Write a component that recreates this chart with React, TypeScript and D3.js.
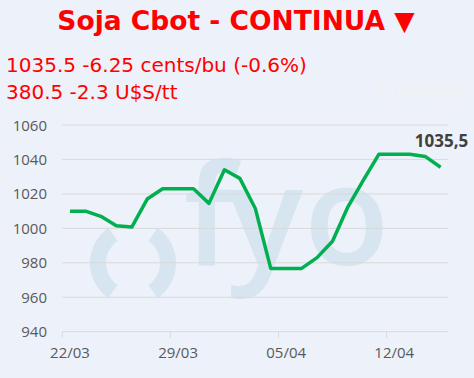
import React from "react";
import * as d3 from "d3";

const dates = ["22/03","23/03","24/03","25/03","26/03","27/03","28/03","29/03","30/03","31/03","01/04","02/04","03/04","04/04","05/04","06/04","07/04","08/04","09/04","10/04","11/04","12/04","13/04","14/04","15/04"];
const prices = [1010,1010,1007,1001.5,1000.75,1017,1023,1023,1023,1014.5,1034,1029,1011.5,976.75,976.75,976.75,983,992.5,1012.5,1028,1043,1043,1043,1041.75,1035.5];
const yTicks = [940,960,980,1000,1020,1040,1060];
const xLabels = ["22/03","29/03","05/04","12/04"];
const title = "Soja Cbot - CONTINUA ▼";
const line1 = "1035.5 -6.25 cents/bu (-0.6%)";
const line2 = "380.5 -2.3 U$S/tt";
const lastLabel = "1035,5";

const W = 474, H = 378;

export default function App() {
  const x = d3.scaleBand<string>().domain(dates).range([62.3, 448.3]).padding(0);
  const y = d3.scaleLinear().domain([940, 1060]).range([331.7, 125]);
  const cx = (d: string) => (x(d) as number) + x.bandwidth() / 2;
  const lineGen = d3.line<number>().x((_, i) => cx(dates[i])).y((v) => y(v)).curve(d3.curveLinear);
  const arc = d3.arc();
  const deg = Math.PI / 180;
  const leftParen = arc({ innerRadius: 27, outerRadius: 43, startAngle: 215 * deg, endAngle: 325 * deg } as any) as string;
  const rightParen = arc({ innerRadius: 27, outerRadius: 43, startAngle: 35 * deg, endAngle: 145 * deg } as any) as string;
  const last = dates.length - 1;
  return (
    <svg width={W} height={H} style={{ position: "absolute", left: 0, top: 0 }}>
      <rect x={0} y={0} width={W} height={H} fill="#EDF1F9" />
      {/* watermark */}
      <g fill="#D6E5EF">
        <path d={leftParen} transform="translate(133,263)" />
        <path d={rightParen} transform="translate(133,263)" />
        <text x="184 228 304" y={265} fontFamily="Open Sans" fontWeight={600} fontSize={140}>fyo</text>
      </g>
      {/* grid */}
      {yTicks.map((t) => (
        <g key={t}>
          <line x1={62.3} x2={448.3} y1={y(t)} y2={y(t)} stroke="#D9D9D9" strokeWidth={1} />
          <text x={47} y={y(t) + 5.5} textAnchor="end" fontFamily="Open Sans" fontSize={15} fill="#595959">{t}</text>
        </g>
      ))}
      {xLabels.map((d) => (
        <g key={d}>
          <line x1={x(d) as number} x2={x(d) as number} y1={y(940)} y2={y(940) + 6} stroke="#D9D9D9" />
          <text x={cx(d)} y={358} textAnchor="middle" fontFamily="Open Sans" fontSize={15} fill="#595959">{d}</text>
        </g>
      ))}
      <path d={lineGen(prices) as string} fill="none" stroke="#00B050" strokeWidth={3.5} strokeLinejoin="round" />
      <text x={cx(dates[last]) + 1} y={147} textAnchor="middle" fontFamily="Open Sans" fontWeight={700} fontSize={17} fill="#404040">{lastLabel}</text>
      <text x={236} y={30} textAnchor="middle" fontFamily="DejaVu Sans" fontWeight={700} fontSize={26.5} fill="#FF0000">{title}</text>
      <text x={6} y={72} fontFamily="DejaVu Sans" fontSize={20} fill="#FF0000">{line1}</text>
      <text x={6} y={99} fontFamily="DejaVu Sans" fontSize={20} fill="#FF0000">{line2}</text>
      <text x={470} y={97} textAnchor="end" fontFamily="DejaVu Sans" fontSize={15} fill="#F2F3F2">#¿NOMBRE?</text>
    </svg>
  );
}
